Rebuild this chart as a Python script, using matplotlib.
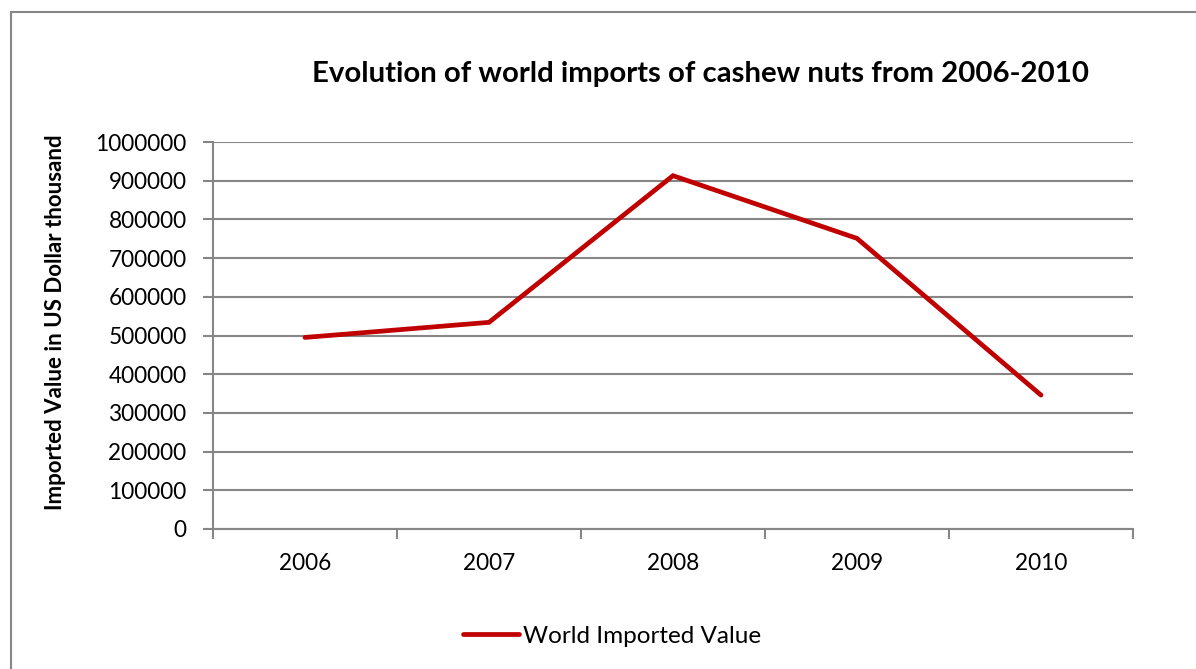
import matplotlib.pyplot as plt
from matplotlib.patches import Rectangle
import numpy as np

# 数据
years = ['2006', '2007', '2008', '2009', '2010']
import_values = [495000, 534000, 913000, 751000, 346000]
y_ticks = [0, 100000, 200000, 300000, 400000, 500000, 600000, 700000, 800000, 900000, 1000000]

plt.rcParams['font.family'] = ['Lato', 'DejaVu Sans']

grey = '#868686'
red = '#C00000'

fig = plt.figure(figsize=(11.96, 6.69), dpi=100)
ax = fig.add_axes([0.1781, 0.2093, 0.7692, 0.5784])

# 外框
fig.patches.append(Rectangle((11 / 1196, -0.1), 1.2, 1 - 12 / 669 + 0.1,
                             transform=fig.transFigure, fill=False,
                             edgecolor=grey, linewidth=1.5))

x = np.arange(len(years))
line, = ax.plot(x, import_values, color=red, linewidth=3.4,
                solid_capstyle='round', solid_joinstyle='miter',
                label='World Imported Value')

ax.set_xlim(-0.5, len(years) - 0.5)
ax.set_ylim(0, 1000000)
ax.set_yticks(y_ticks)
ax.set_yticklabels([str(v) for v in y_ticks], fontsize=16.3)
ax.set_xticks(x)
ax.set_xticklabels(years, fontsize=16.3)
ax.set_xticks(np.arange(-0.5, len(years)), minor=True)
ax.tick_params(axis='x', which='major', length=0, pad=17)
ax.tick_params(axis='x', which='minor', length=7, width=1.5, color=grey, direction='out')
ax.tick_params(axis='y', length=7, width=1.5, color=grey, pad=12)

ax.grid(axis='y', color=grey, linewidth=1.5)
ax.set_axisbelow(True)
for s in ['top', 'right']:
    ax.spines[s].set_visible(False)
for s in ['left', 'bottom']:
    ax.spines[s].set_color(grey)
    ax.spines[s].set_linewidth(1.5)

fig.text(0.5855, 0.89, 'Evolution of world imports of cashew nuts from 2006-2010',
         ha='center', va='center', fontsize=21.2, fontweight='bold')
fig.text(0.046, 0.5187, 'Imported Value in US Dollar thousand', rotation=90,
         ha='center', va='center', fontsize=16, fontweight='bold')

fig.legend(handles=[line], loc='center', bbox_to_anchor=(0.512, 0.049),
           frameon=False, fontsize=17.5, handlelength=2.3, handletextpad=0.16)

plt.savefig('out.png', dpi=100)
